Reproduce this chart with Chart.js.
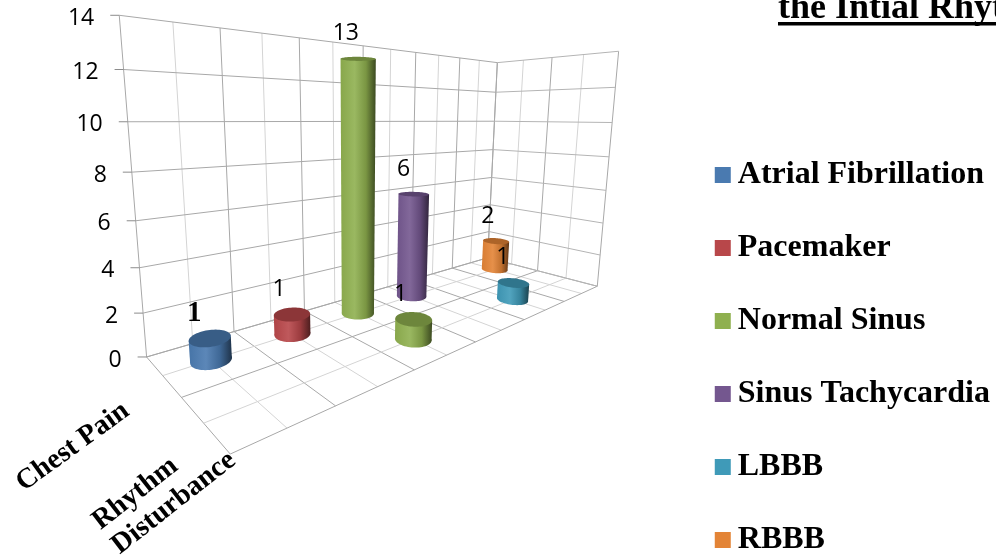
<!DOCTYPE html>
<html><head><meta charset="utf-8">
<style>html,body{margin:0;padding:0;background:#fff;overflow:hidden}canvas{display:block}</style>
<script src="https://cdn.jsdelivr.net/npm/chart.js@4"></script>
</head><body><canvas id="c" width="996" height="556"></canvas>
<script>
const categories = ['Chest Pain', ['Rhythm', 'Disturbance']];
const titleText = 'the Intial Rhythm';
const yTicks = [0, 2, 4, 6, 8, 10, 12, 14];
const seriesNames = ['Atrial Fibrillation', 'Pacemaker', 'Normal Sinus', 'Sinus Tachycardia', 'LBBB', 'RBBB'];
const atrialFibrillation = [1, null];
const pacemaker = [1, null];
const normalSinus = [13, 1];
const sinusTachycardia = [6, null];
const lbbb = [null, 1];
const rbbb = [2, null];
const seriesValues = [atrialFibrillation, pacemaker, normalSinus, sinusTachycardia, lbbb, rbbb];
const seriesColors = ['#4a7ab0', '#b8474a', '#8fb04f', '#74578f', '#3f9ab8', '#e38436'];

/* perspective frame: corners of the 3D box on the page (u depth, v category, h value) */
const frame = [
  [0,0,0,147,358],[1,0,0,487,257],[1,1,0,598,287],[0,1,0,230,453],
  [0,0,1,119,15],[1,0,1,498,63],[1,1,1,618,51]
];
function solveFrame(){
  const rows=[],rhs=[];
  frame.forEach(([u,v,h,x,y])=>{x/=1000;y/=1000;
    rows.push([u,v,h,1,0,0,0,0,-x*u,-x*v,-x*h]);rhs.push(x);
    rows.push([0,0,0,0,u,v,h,1,-y*u,-y*v,-y*h]);rhs.push(y);});
  const n=11,A=[];
  for(let i=0;i<n;i++){A[i]=[];for(let j=0;j<=n;j++){let s=0;
    rows.forEach((r,k)=>{s+=r[i]*(j<n?r[j]:rhs[k]);});A[i][j]=s;}}
  for(let i=0;i<n;i++){let m=i;for(let k=i+1;k<n;k++)if(Math.abs(A[k][i])>Math.abs(A[m][i]))m=k;
    [A[i],A[m]]=[A[m],A[i]];
    for(let k=0;k<n;k++){if(k===i)continue;const f=A[k][i]/A[i][i];for(let j=i;j<=n;j++)A[k][j]-=f*A[i][j];}}
  return A.map((r,i)=>r[n]/r[i]);
}
const P=solveFrame();
function project(u,v,h){
  const w=P[8]*u+P[9]*v+P[10]*h+1;
  return {x:1000*(P[0]*u+P[1]*v+P[2]*h+P[3])/w,y:1000*(P[4]*u+P[5]*v+P[6]*h+P[7])/w};
}
const frac=(s,val)=>s.isHorizontal()?(s.getPixelForValue(val)-s.left)/s.width:(s.bottom-s.getPixelForValue(val))/s.height;
const SLOT_R=0.21;

function shade(hex,f){
  const n=parseInt(hex.slice(1),16),c=[n>>16,(n>>8)&255,n&255];
  return 'rgb('+c.map(a=>Math.round(f<=1?a*f:a+(255-a)*(f-1))).join(',')+')';
}
function circle(u,v,h){
  const pts=[];
  for(let i=0;i<64;i++){const t=i/64*2*Math.PI;
    pts.push(project(u+SLOT_R/6*Math.cos(t),v+SLOT_R/2*Math.sin(t),h));}
  return pts;
}
function poly(ctx,pts){ctx.beginPath();pts.forEach((p,i)=>i?ctx.lineTo(p.x,p.y):ctx.moveTo(p.x,p.y));ctx.closePath();}
function extremes(pts){let l=pts[0],r=pts[0];pts.forEach(p=>{if(p.x<l.x)l=p;if(p.x>r.x)r=p;});return [l,r];}

class CylinderController extends Chart.BarController{
  static id='cylinder';
  cylinders(){
    const ds=this.getDataset(),meta=this.getMeta(),out=[];
    const us=this.chart.scales.series;
    meta.data.forEach((el,i)=>{
      const parsed=this.getParsed(i);
      if(!parsed||parsed.y==null||isNaN(parsed.y))return;
      const u=frac(us,this.index+0.5),v=frac(meta.xScale,i),h=frac(meta.yScale,parsed.y);
      out.push({u,v,h,value:parsed.y,color:ds.backgroundColor});
    });
    return out;
  }
  draw(){
    const ctx=this.chart.ctx;
    this.cylinders().forEach(c=>{
      const bot=circle(c.u,c.v,0),top=circle(c.u,c.v,c.h);
      const [bl,br]=extremes(bot),[tl,tr]=extremes(top);
      const minX=Math.min(bl.x,tl.x),maxX=Math.max(br.x,tr.x);
      const g=ctx.createLinearGradient(minX,0,maxX,0);
      g.addColorStop(0,shade(c.color,0.95));
      g.addColorStop(0.4,shade(c.color,1.1));
      g.addColorStop(0.72,shade(c.color,0.85));
      g.addColorStop(1,shade(c.color,0.42));
      ctx.save();
      ctx.fillStyle=g;
      poly(ctx,bot);ctx.fill();
      ctx.beginPath();ctx.moveTo(tl.x,tl.y);ctx.lineTo(bl.x,bl.y);ctx.lineTo(br.x,br.y);ctx.lineTo(tr.x,tr.y);ctx.closePath();ctx.fill();
      ctx.fillStyle=shade(c.color,0.76);
      poly(ctx,top);ctx.fill();
      ctx.restore();
    });
  }
}
Chart.register(CylinderController);

const gridPlugin={
  id:'grid3d',
  beforeDatasetsDraw(chart){
    const ctx=chart.ctx,y=chart.scales.y,hs=y.ticks.map(t=>frac(y,t.value));
    const line=(a,b,col)=>{ctx.strokeStyle=col;ctx.beginPath();ctx.moveTo(a.x,a.y);ctx.lineTo(b.x,b.y);ctx.stroke();};
    ctx.save();ctx.lineWidth=1;
    const minor='#d4d4d4',major='#a8a8a8';
    for(let i=0;i<=12;i++){const u=i/12,col=i%2?minor:major;
      line(project(u,0,0),project(u,1,0),col);
      line(project(u,0,0),project(u,0,1),col);}
    for(let i=0;i<=4;i++){const v=i/4,col=i%2?minor:major;
      line(project(0,v,0),project(1,v,0),col);
      line(project(1,v,0),project(1,v,1),col);}
    hs.forEach(h=>{
      line(project(0,0,h),project(1,0,h),'#a8a8a8');
      line(project(1,0,h),project(1,1,h),'#b4b4b4');
    });
    ctx.restore();
  }
};
const textPlugin={
  id:'text3d',
  afterDraw(chart){
    const ctx=chart.ctx,y=chart.scales.y;
    ctx.save();
    /* y ticks following the slanted axis */
    y.ticks.forEach(t=>{
      const p=project(0,0,frac(y,t.value));
      ctx.strokeStyle='#8c8c8c';ctx.lineWidth=1;ctx.beginPath();ctx.moveTo(p.x-9,p.y);ctx.lineTo(p.x,p.y);ctx.stroke();
      ctx.fillStyle='#000';ctx.font='23px "Open Sans"';ctx.textAlign='right';ctx.textBaseline='middle';
      ctx.fillText(String(t.value),p.x-25,p.y+3);
    });
    /* value labels */
    chart.getSortedVisibleDatasetMetas().forEach(meta=>{
      meta.controller.cylinders().forEach(c=>{
        const top=circle(c.u,c.v,c.h),[l,r]=extremes(top),cx=(l.x+r.x)/2,cy=top.reduce((s,p)=>s+p.y,0)/top.length;
        const off=(r.x-l.x)*0.45;
        ctx.fillStyle='#000';ctx.textAlign='center';ctx.textBaseline='middle';
        ctx.font=meta.index===0?'bold 29px "Liberation Serif"':'23px "Open Sans"';
        ctx.fillText(String(c.value),cx-off+3.5,cy-25);
      });
    });
    /* category labels */
    ctx.fillStyle='#000';ctx.font='bold 28.5px "Liberation Serif"';ctx.textAlign='left';ctx.textBaseline='alphabetic';
    const xs=chart.scales.x,starts=[[-139,116],[-103,107]],angles=[-36,-38];
    chart.data.labels.forEach((lab,i)=>{
      const e=project(0,frac(xs,i),0),lines=[].concat(lab);
      ctx.save();ctx.translate(e.x+starts[i][0],e.y+starts[i][1]);ctx.rotate(angles[i]*Math.PI/180);
      lines.forEach((s,k)=>ctx.fillText(s,0,k*31));
      ctx.restore();
    });
    /* title */
    ctx.font='bold 36px "Liberation Serif"';ctx.textAlign='left';ctx.textBaseline='alphabetic';
    ctx.fillText(titleText,778,18);
    ctx.fillRect(778,22,ctx.measureText(titleText).width,3.5);
    /* legend swatches */
    chart.legend.legendHitBoxes.forEach((b,i)=>{
      ctx.fillStyle=seriesColors[i];
      ctx.fillRect(b.left,b.top+b.height/2-8,16,16);
    });
    ctx.restore();
  }
};

const legendDrop={
  id:'legendDrop',
  afterLayout(chart){
    /* legend block hangs low and slightly right, as in the reference */
    const lg=chart.legend;
    lg.top+=41;lg.bottom+=41;lg.left+=4;lg.right+=4;
    lg.legendHitBoxes.forEach(b=>{b.top+=41;});
  }
};

new Chart(document.getElementById('c'),{
  type:'cylinder',
  data:{labels:categories,
    datasets:seriesNames.map((name,i)=>({label:name,data:seriesValues[i],backgroundColor:seriesColors[i],clip:false}))},
  options:{
    responsive:false,animation:false,
    layout:{padding:0},
    scales:{
      x:{display:false,offset:true},
      series:{type:'linear',axis:'x',position:'bottom',display:false,offset:false,min:0,max:6},
      y:{display:false,min:0,max:14,ticks:{stepSize:2}}
    },
    plugins:{
      tooltip:{enabled:false},
      legend:{position:'right',align:'end',
        labels:{boxWidth:7,boxHeight:16,padding:41,color:'#000',
          font:{family:'"Liberation Serif"',size:32,weight:'bold'},
          generateLabels(chart){return chart.data.datasets.map((d,i)=>({text:d.label,fillStyle:'rgba(0,0,0,0)',strokeStyle:'rgba(0,0,0,0)',lineWidth:0,datasetIndex:i}));}
        }}
    }
  },
  plugins:[gridPlugin,legendDrop,textPlugin]
});
</script></body></html>
